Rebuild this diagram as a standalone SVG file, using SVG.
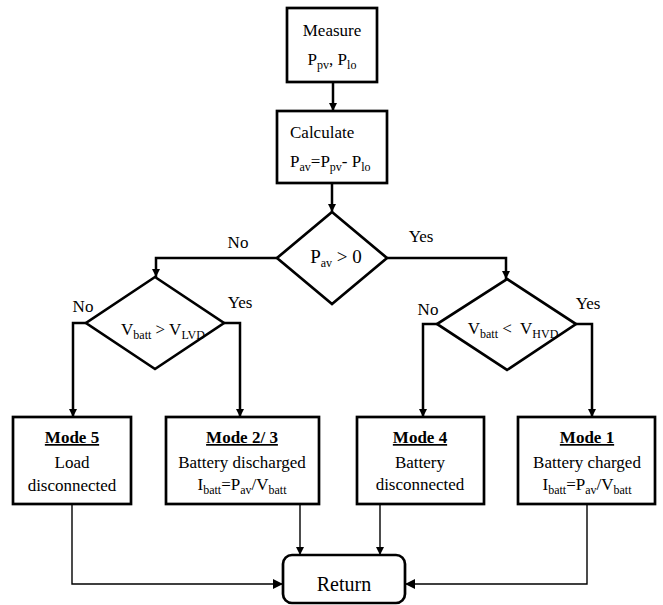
<svg xmlns="http://www.w3.org/2000/svg" width="663" height="605" viewBox="0 0 663 605">
<style>
text{font-family:"Liberation Serif","Times New Roman",serif;font-size:17px;fill:#000}
.c{text-anchor:middle}
.b{font-weight:bold;text-decoration:underline}
.s{font-size:12px}
.box{fill:#fff;stroke:#000;stroke-width:2.7}
.ln{fill:none;stroke:#000;stroke-width:2.5}
.th{fill:none;stroke:#000;stroke-width:1.4}
</style>
<defs>
<marker id="ah" markerUnits="userSpaceOnUse" markerWidth="8" markerHeight="8" refX="8" refY="4" orient="auto">
<path d="M0,0 L8,4 L0,8 z" fill="#000"/>
</marker>
<marker id="ah2" markerUnits="userSpaceOnUse" markerWidth="10" markerHeight="10" refX="10" refY="5" orient="auto">
<path d="M0,0 L10,5 L0,10 z" fill="#000"/>
</marker>
</defs>
<g id="connectors">
<path class="ln" d="M333,82 V111" marker-end="url(#ah)"/>
<path class="ln" d="M332,183 V212" marker-end="url(#ah)"/>
<path class="ln" d="M277,258 H156 V277" marker-end="url(#ah)"/>
<path class="ln" d="M387,258 H506 V279" marker-end="url(#ah)"/>
<path class="ln" d="M86,323 H73 V417" marker-end="url(#ah)"/>
<path class="ln" d="M224,323 H240 V417" marker-end="url(#ah)"/>
<path class="ln" d="M437,324 H423 V417" marker-end="url(#ah)"/>
<path class="ln" d="M576,324 H592 V417" marker-end="url(#ah)"/>
<path class="th" d="M72,504 V584 H283" marker-end="url(#ah2)"/>
<path class="th" d="M300,504 V555" marker-end="url(#ah)"/>
<path class="th" d="M380,504 V555" marker-end="url(#ah)"/>
<path class="th" d="M587,504 V584 H405" marker-end="url(#ah2)"/>
<text x="238" y="248" class="c">No</text>
<text x="421" y="242" class="c">Yes</text>
<text x="83" y="312" class="c">No</text>
<text x="240" y="308" class="c">Yes</text>
<text x="428" y="315" class="c">No</text>
<text x="588" y="309" class="c">Yes</text>
</g>
<g id="measure">
<rect class="box" x="287" y="8" width="90" height="74"/>
<text x="332" y="36" class="c">Measure</text>
<text x="332" y="65" class="c">P<tspan class="s" dy="4">pv</tspan><tspan dy="-4">, P</tspan><tspan class="s" dy="4">lo</tspan></text>
</g>
<g id="calculate">
<rect class="box" x="277" y="111" width="110" height="72"/>
<text x="290" y="138">Calculate</text>
<text x="290" y="167">P<tspan class="s" dy="4">av</tspan><tspan dy="-4">=P</tspan><tspan class="s" dy="4">pv</tspan><tspan dy="-4">- P</tspan><tspan class="s" dy="4">lo</tspan></text>
</g>
<g id="decision-pav">
<polygon class="box" points="332,212 387,258 332,304 277,258"/>
<text x="336" y="263" class="c" style="font-size:19px">P<tspan class="s" dy="4">av</tspan><tspan dy="-4"> &gt; 0</tspan></text>
</g>
<g id="decision-lvd">
<polygon class="box" points="155,277 224,323 155,369 86,323"/>
<text x="163" y="335" class="c">V<tspan class="s" dy="4">batt</tspan><tspan dy="-4"> &gt; V</tspan><tspan class="s" dy="4">LVD</tspan></text>
</g>
<g id="decision-hvd">
<polygon class="box" points="507,279 576,324 507,370 437,324"/>
<text x="513" y="334" class="c" style="white-space:pre">V<tspan class="s" dy="4">batt</tspan><tspan dy="-4"> &lt;  V</tspan><tspan class="s" dy="4">HVD</tspan></text>
</g>
<g id="mode5">
<rect class="box" x="13" y="417" width="118" height="87"/>
<text x="72" y="443" class="c b">Mode 5</text>
<text x="72" y="468" class="c">Load</text>
<text x="72" y="491" class="c">disconnected</text>
</g>
<g id="mode23">
<rect class="box" x="166" y="417" width="153" height="87"/>
<text x="242" y="443" class="c b">Mode 2/ 3</text>
<text x="242" y="468" class="c">Battery discharged</text>
<text x="242" y="490" class="c">I<tspan class="s" dy="4">batt</tspan><tspan dy="-4">=P</tspan><tspan class="s" dy="4">av</tspan><tspan dy="-4">/V</tspan><tspan class="s" dy="4">batt</tspan></text>
</g>
<g id="mode4">
<rect class="box" x="357" y="417" width="127" height="87"/>
<text x="420" y="443" class="c b">Mode 4</text>
<text x="420" y="468" class="c">Battery</text>
<text x="420" y="490" class="c">disconnected</text>
</g>
<g id="mode1">
<rect class="box" x="518" y="417" width="137" height="87"/>
<text x="587" y="443" class="c b">Mode 1</text>
<text x="587" y="468" class="c">Battery charged</text>
<text x="587" y="490" class="c">I<tspan class="s" dy="4">batt</tspan><tspan dy="-4">=P</tspan><tspan class="s" dy="4">av</tspan><tspan dy="-4">/V</tspan><tspan class="s" dy="4">batt</tspan></text>
</g>
<g id="return">
<rect class="box" x="283" y="555" width="122" height="48" rx="9"/>
<text x="344" y="591" class="c" style="font-size:20px">Return</text>
</g>
</svg>
